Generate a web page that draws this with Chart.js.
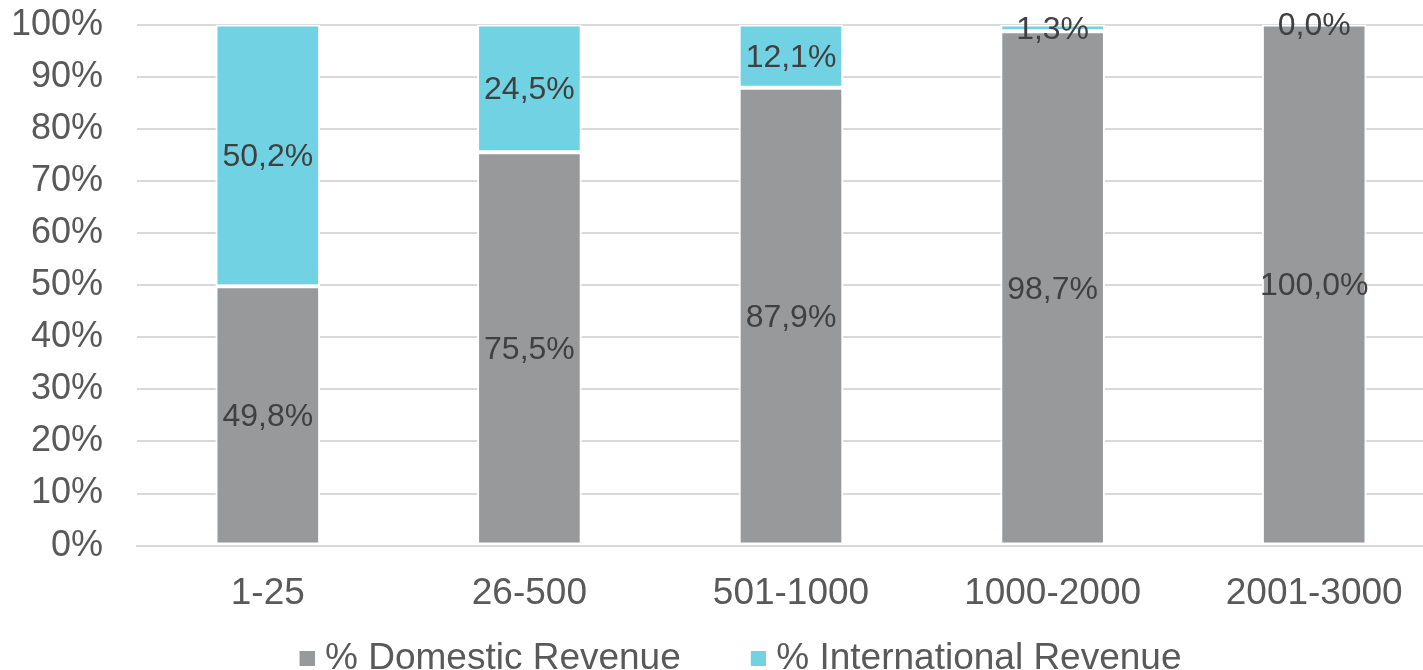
<!DOCTYPE html>
<html>
<head>
<meta charset="utf-8">
<script src="https://cdn.jsdelivr.net/npm/chart.js@4/dist/chart.umd.min.js"></script>
<style>
  html, body { margin: 0; padding: 0; background: #fff; overflow: hidden; }
  #wrap { width: 1445px; height: 718px; position: relative; top: -31px; }
</style>
</head>
<body>
<div id="wrap"><canvas id="revChart"></canvas></div>
<script>
// categories and values
const categories = ['1-25', '26-500', '501-1000', '1000-2000', '2001-3000'];
const domestic = [49.8, 75.5, 87.9, 98.7, 100.0];
const international = [50.2, 24.5, 12.1, 1.3, 0.0];
const yTicks = [0, 10, 20, 30, 40, 50, 60, 70, 80, 90, 100];

const textColor = '#595959';
const fontFam = '"Liberation Sans", Arial, sans-serif';
const greyCol = '#98999B';
const cyanCol = '#71D2E4';

// legend marker: small square sitting at the right end of a wider transparent strip
// so the gap between legend entries is bigger than the legend's vertical padding
const markW = 71;
function legendMark(color) {
  const c = document.createElement('canvas');
  c.width = markW + 16;
  c.height = 15;
  const g = c.getContext('2d');
  g.fillStyle = color;
  g.fillRect(c.width - 15, 0, 15, 15);
  return c;
}

// draws the value in the middle of each segment (no datalabels plugin available)
const segLabels = {
  id: 'segLabels',
  afterDatasetsDraw(chart) {
    const ctx = chart.ctx;
    ctx.save();
    ctx.font = '32px ' + fontFam;
    ctx.fillStyle = '#404040';
    ctx.textAlign = 'center';
    ctx.textBaseline = 'middle';
    chart.data.datasets.forEach((ds, i) => {
      const meta = chart.getDatasetMeta(i);
      meta.data.forEach((bar, j) => {
        const v = ds.data[j];
        const mid = (bar.y + bar.base) / 2;
        ctx.fillText(v.toFixed(1).replace('.', ',') + '%', bar.x, mid + 2);
      });
    });
    ctx.restore();
  }
};

// nudge the legend a bit left to make up for the blank space in front of the first marker
const legendNudge = {
  id: 'legendNudge',
  afterLayout(chart) {
    if (chart.legend) {
      chart.legend.left -= 14;
      chart.legend.right -= 14;
    }
  }
};

const ctx = document.getElementById('revChart');

new Chart(ctx, {
  type: 'bar',
  data: {
    labels: categories,
    datasets: [{
      label: '% Domestic Revenue',
      data: domestic,
      backgroundColor: greyCol,
      borderColor: '#ffffff',
      borderWidth: 2,
      borderSkipped: false,
      categoryPercentage: 1,
      barPercentage: 0.4,
      pointStyle: legendMark(greyCol)
    }, {
      label: '% International Revenue',
      data: international,
      backgroundColor: cyanCol,
      borderColor: '#ffffff',
      borderWidth: 2,
      borderSkipped: false,
      categoryPercentage: 1,
      barPercentage: 0.4,
      pointStyle: legendMark(cyanCol)
    }]
  },
  options: {
    responsive: true,
    maintainAspectRatio: false,
    animation: false,
    layout: { padding: 0 },
    plugins: {
      tooltip: { enabled: false },
      legend: {
        position: 'bottom',
        labels: {
          color: textColor,
          font: { family: fontFam, size: 37 },
          usePointStyle: true,
          pointStyleWidth: markW,
          boxHeight: 15,
          padding: 6
        }
      }
    },
    scales: {
      x: {
        stacked: true,
        grid: { display: false },
        border: { color: '#D9D9D9', width: 2 },
        ticks: {
          color: textColor,
          font: { family: fontFam, size: 37 },
          padding: 18
        }
      },
      y: {
        stacked: true,
        min: 0,
        max: 100,
        afterFit(scale) { scale.width = 137; },
        afterBuildTicks(scale) { scale.ticks = yTicks.map(v => ({ value: v })); },
        grid: { color: '#D9D9D9', lineWidth: 2, drawTicks: false },
        border: { display: false },
        ticks: {
          color: textColor,
          font: { family: fontFam, size: 36 },
          padding: 34,
          autoSkip: false,
          callback: v => v + '%'
        }
      }
    }
  },
  plugins: [segLabels, legendNudge]
});
</script>
</body>
</html>
